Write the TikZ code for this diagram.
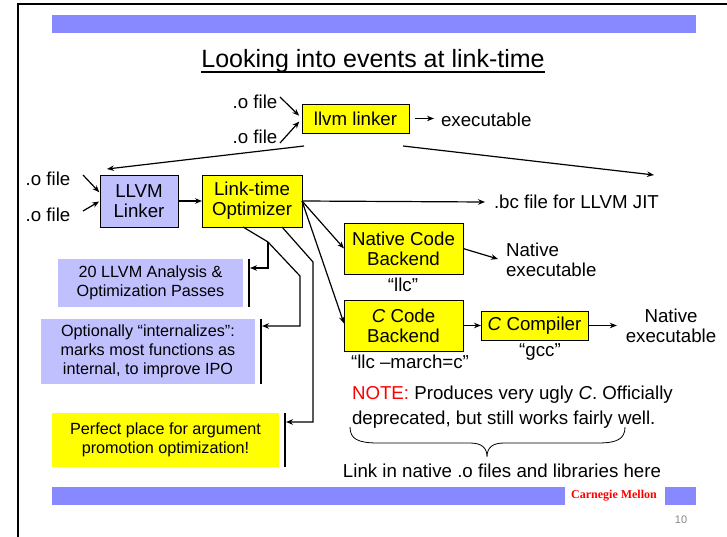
\documentclass[tikz,border=0pt]{standalone}
\usepackage{fontspec}
\setmainfont{Liberation Sans}
\newfontfamily\cmufont{Liberation Serif}
\usetikzlibrary{arrows.meta}
\definecolor{barblue}{HTML}{8888FF}
\definecolor{boxblue}{HTML}{C0C0FF}
\definecolor{ylw}{HTML}{FFFF00}
\definecolor{notered}{HTML}{FF0000}
\definecolor{pagegray}{HTML}{888888}
\begin{document}
\begin{tikzpicture}[x=1pt,y=-1pt,
  every node/.style={inner sep=0pt,outer sep=0pt},
  main/.style={font=\fontsize{18.7}{20}\selectfont},
  small/.style={font=\fontsize{16.2}{19}\selectfont,align=center},
  ybox/.style={draw=black,fill=ylw,line width=0.8pt,main,align=center},
  bbox/.style={draw=black,fill=boxblue,line width=0.8pt,main,align=center},
  conn/.style={line width=1.2pt,-{Stealth[length=7pt,width=5.5pt]}},
  plain/.style={line width=1.2pt},
  bar/.style={line width=1.5pt},
]
\useasboundingbox (0,0) rectangle (727,537);
% slide frame and bars
\draw[line width=2pt] (18,540) -- (18,4) -- (730,4);
\fill[barblue] (52,15) rectangle (696,33);
\fill[barblue] (52,487) rectangle (565,505);
\fill[barblue] (665,487) rectangle (696,505);
\node[font=\cmufont\bfseries\fontsize{12}{12}\selectfont,text=notered] (cmu) at (614,496) {Carnegie Mellon};
\node[font=\fontsize{11}{11}\selectfont,text=pagegray] (pg) at (681,520) {10};

% title
\node[anchor=base,font=\fontsize{25}{28}\selectfont] (title) at (373,68) {Looking into events at link-time};
\draw[line width=1.2pt] ([yshift=-4pt]title.base west) -- ([yshift=-4pt]title.base east);

% top: llvm linker
\node[ybox,minimum width=107,minimum height=29] (ll) at (355.5,118.5) {llvm linker};
\node[main] (o1) at (255,102) {.o file};
\node[main] (o2) at (255,137) {.o file};
\node[main,anchor=west] (ex) at (441,120) {executable};
\coordinate (o1s) at (280,97);
\coordinate (o2s) at (280,143);
\draw[conn,shorten >=4pt] (o1s) -- (ll.west);
\draw[conn,shorten >=4pt] (o2s) -- (ll.west);
\draw[conn] ([xshift=6pt]ll.east) -- ([xshift=-7pt]ex.west |- ll.east);
\coordinate (lt) at (107,169);
\coordinate (rt) at (654,175);
\draw[conn] ([xshift=2pt,yshift=-13pt]ll.south west) -- (lt);
\draw[conn] ([xshift=-6pt,yshift=-13pt]ll.south east) -- (rt);

% LLVM linker / LTO
\node[bbox,minimum width=78,minimum height=52] (lk) at (139,201) {LLVM\\Linker};
\node[ybox,minimum width=100,minimum height=52] (lto) at (252,201) {Link-time\\Optimizer};
\node[main] (o3) at (48,179) {.o file};
\node[main] (o4) at (48,215) {.o file};
\coordinate (o3s) at (83,175);
\coordinate (o4s) at (83,211);
\draw[conn,shorten >=1pt] (o3s) -- ([yshift=8pt]lk.west);
\draw[conn,shorten >=1pt] (o4s) -- (lk.west);
\draw[conn] (lk.east) -- (lto.west);

% right side
\node[main,anchor=west] (bc) at (494,202) {.bc file for LLVM JIT};
\draw[conn] (lto.east) -- ([xshift=-9pt]bc.west);
\node[ybox,minimum width=119,minimum height=51] (ncb) at (403.5,248.5) {Native Code\\Backend};
\node[ybox,minimum width=119,minimum height=51] (ccb) at (403.5,325.5) {\textit{C} Code\\Backend};
\node[ybox,minimum width=107,minimum height=29] (cc) at (534.5,325.5) {\textit{C} Compiler};
\draw[conn] (lto.east) -- (ncb.west);
\draw[conn] (lto.east) -- ([yshift=2pt]ccb.west);
\draw[conn] (ccb.east) -- (cc.west);
\node[main,align=left,anchor=west] (ne1) at (506,260) {Native\\executable};
\node[main,align=center] (ne2) at (671,326) {Native\\executable};
\coordinate (ne1t) at (498,259);
\draw[conn] (ncb.east) -- (ne1t);
\draw[conn] (cc.east) -- ([xshift=-9pt]ne2.west |- cc.east);
\node[main] (llc) at (403,285) {“llc”};
\node[main] (gcc) at (540,352) {“gcc”};
\node[main] (llcm) at (410,362) {“llc –march=c”};
\node[main,align=left,anchor=north west,font=\fontsize{18.7}{25}\selectfont] (nt) at (352,386) {\textcolor{notered}{NOTE:} Produces very ugly \textit{C}. Officially\\deprecated, but still works fairly well.};
\draw[line width=0.8pt] (350,427) .. controls (350,439) and (358,443) .. (378,443) -- (470,443) .. controls (482,443) and (487,448) .. (487,457) .. controls (487,448) and (492,443) .. (504,443) -- (598,443) .. controls (617,443) and (625,439) .. (625,427);
\node[main] (lnk) at (502,471) {Link in native .o files and libraries here};

% left boxes
\node[small,fill=boxblue,minimum width=185,minimum height=48] (b1) at (150.5,283) {20 LLVM Analysis \&\\Optimization Passes};
\node[small,fill=boxblue,minimum width=214,minimum height=65] (b2) at (148,351) {Optionally “internalizes”:\\marks most functions as\\internal, to improve IPO};
\node[small,fill=ylw,minimum width=227,minimum height=54] (b3) at (165.5,440) {Perfect place for argument\\promotion optimization!};
\draw[bar] ([xshift=6pt]b1.north east) -- ([xshift=6pt]b1.south east);
\draw[bar] ([xshift=6pt]b2.north east) -- ([xshift=6pt]b2.south east);
\draw[bar] ([xshift=6pt]b3.north east) -- ([xshift=6pt]b3.south east);
\coordinate (ba) at (268,242);
\coordinate (bb) at (300,276);
\coordinate (bc1) at (313,262);
\coordinate (a1) at (250,268);
\coordinate (a2) at (262,326);
\coordinate (a3) at (286,422);
\draw[plain] ([xshift=-9pt]lto.south) -- (ba);
\draw[conn] (ba) |- (a1);
\draw[conn] (ba) -- (bb) |- (a2);
\draw[conn] ([xshift=30pt]lto.south) -- (bc1) |- (a3);
\end{tikzpicture}
\end{document}
